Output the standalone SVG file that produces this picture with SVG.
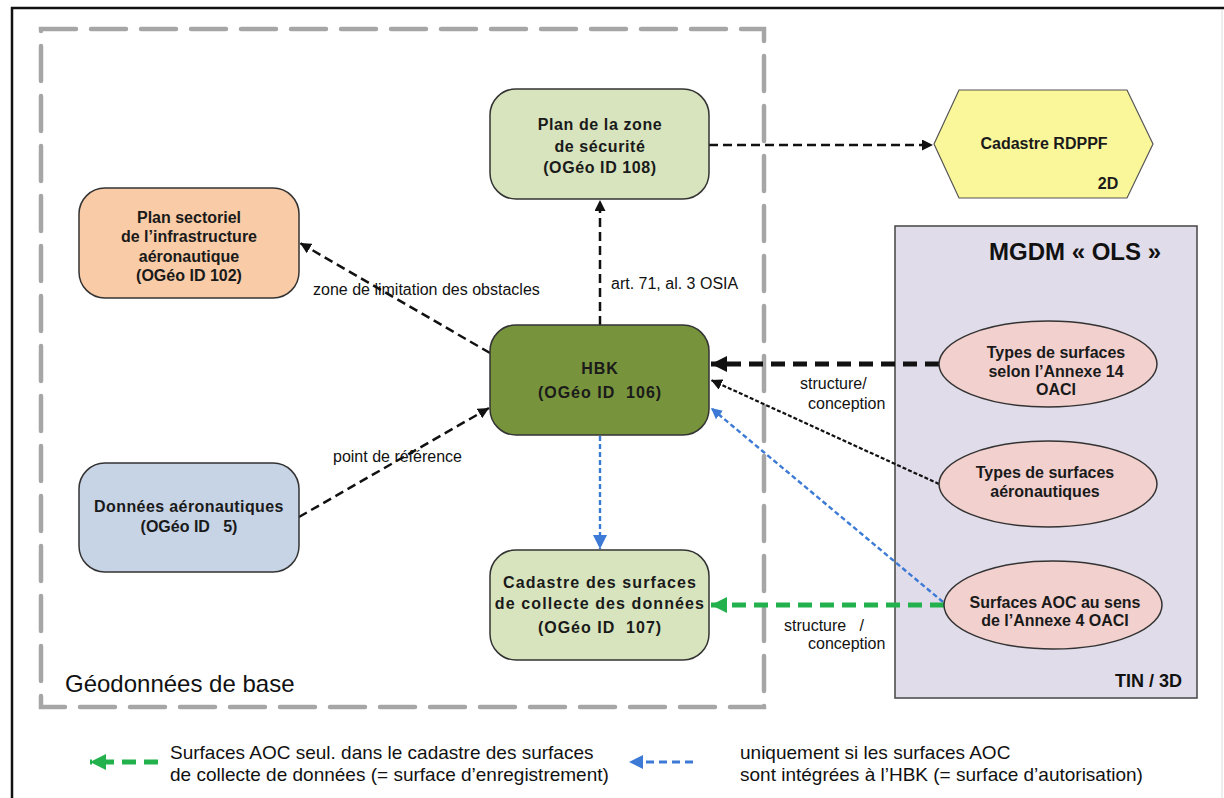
<svg xmlns="http://www.w3.org/2000/svg" width="1224" height="798" viewBox="0 0 1224 798">
<style>
.node{stroke:#333;stroke-width:1.5}
.t{font-family:"Liberation Sans",Arial,sans-serif;font-weight:bold;font-size:16px;fill:#1a1a1a;text-anchor:middle;dominant-baseline:central}
.lbl{font-family:"Liberation Sans",Arial,sans-serif;font-size:16px;fill:#111;dominant-baseline:central}
.leg{font-family:"Liberation Sans",Arial,sans-serif;font-size:19px;fill:#111;dominant-baseline:central}
.blk{fill:none;stroke:#111;stroke-width:2.5;stroke-dasharray:9 5}
.blkthick{fill:none;stroke:#111;stroke-width:5;stroke-dasharray:14 8}
.blkdot{fill:none;stroke:#111;stroke-width:2.2;stroke-dasharray:4 2}
.blue{fill:none;stroke:#3c7ad6;stroke-width:2.4;stroke-dasharray:5 3}
.green{fill:none;stroke:#22b14c;stroke-width:5;stroke-dasharray:14 8}
</style>
<defs>
<marker id="aB" markerUnits="userSpaceOnUse" viewBox="0 0 10 10" refX="10" refY="5" markerWidth="11" markerHeight="11" orient="auto"><path d="M0,0 L10,5 L0,10 z" fill="#111"/></marker>
<marker id="aBL" markerUnits="userSpaceOnUse" viewBox="0 0 10 10" refX="10" refY="5" markerWidth="16" markerHeight="16" orient="auto"><path d="M0,0 L10,5 L0,10 z" fill="#111"/></marker>
<marker id="aBlue" markerUnits="userSpaceOnUse" viewBox="0 0 10 10" refX="10" refY="5" markerWidth="11" markerHeight="11" orient="auto"><path d="M0,0 L10,5 L0,10 z" fill="#3c7ad6"/></marker>
<marker id="aBlueL" markerUnits="userSpaceOnUse" viewBox="0 0 10 10" refX="10" refY="5" markerWidth="14" markerHeight="14" orient="auto"><path d="M0,0 L10,5 L0,10 z" fill="#3c7ad6"/></marker>
<marker id="aG" markerUnits="userSpaceOnUse" viewBox="0 0 10 10" refX="10" refY="5" markerWidth="16" markerHeight="16" orient="auto"><path d="M0,0 L10,5 L0,10 z" fill="#22b14c"/></marker>
</defs>
<rect x="0" y="0" width="1224" height="798" fill="#fff"/>
<path d="M12,798 L12,8 L1224,8" fill="none" stroke="#111" stroke-width="2.5"/>
<line x1="1222" y1="10" x2="1222" y2="798" stroke="#ddd" stroke-width="1"/>
<g id="geodonnees">
<rect x="41" y="29" width="723" height="678" fill="none" stroke="#a6a6a6" stroke-width="4.5" stroke-dasharray="35 15" stroke-linecap="round"/>
<text x="65" y="683" font-family="Liberation Sans,Arial,sans-serif" font-size="24" fill="#111" dominant-baseline="central">Géodonnées de base</text>
</g>
<g id="mgdm">
<rect x="895" y="226" width="302" height="472" fill="#e0dcea" stroke="#444" stroke-width="1.5"/>
<text x="1075" y="251" font-family="Liberation Sans,Arial,sans-serif" font-size="24" font-weight="bold" fill="#111" text-anchor="middle" dominant-baseline="central">MGDM « OLS »</text>
<text x="1182" y="681" font-family="Liberation Sans,Arial,sans-serif" font-size="18" font-weight="bold" fill="#111" text-anchor="end" dominant-baseline="central">TIN / 3D</text>
</g>
<g id="connectors">
<line class="blk" x1="709" y1="145" x2="933" y2="145" marker-end="url(#aB)"/>
<line class="blk" x1="600" y1="325" x2="600" y2="200" marker-end="url(#aB)"/>
<line class="blk" x1="490" y1="353" x2="300" y2="243" marker-end="url(#aB)"/>
<line class="blk" x1="299" y1="517" x2="489" y2="408" marker-end="url(#aB)"/>
<line class="blkthick" x1="939" y1="364" x2="711" y2="364" marker-end="url(#aBL)"/>
<line class="blkdot" x1="939" y1="484" x2="711" y2="380" marker-end="url(#aB)"/>
<line class="blue" x1="943" y1="602" x2="711" y2="408" marker-end="url(#aBlue)"/>
<line class="blue" x1="600" y1="436" x2="600" y2="549" marker-end="url(#aBlueL)"/>
<line class="green" x1="944" y1="605" x2="711" y2="605" marker-end="url(#aG)"/>
<text class="lbl" x="313" y="289">zone de limitation des obstacles</text>
<text class="lbl" x="611" y="283">art. 71, al. 3 OSIA</text>
<text class="lbl" x="333" y="456">point de référence</text>
<text class="lbl" x="800" y="383">structure/</text>
<text class="lbl" x="808" y="403">conception</text>
<text class="lbl" x="784" y="625" xml:space="preserve">structure   /</text>
<text class="lbl" x="808" y="643">conception</text>
</g>
<g id="plan-sectoriel">
<rect class="node" x="79" y="188" width="220" height="110" rx="26" fill="#f9cba6"/>
<text class="t" x="189" y="217">Plan sectoriel</text>
<text class="t" x="189" y="236">de l’infrastructure</text>
<text class="t" x="189" y="256">aéronautique</text>
<text class="t" x="189" y="275">(OGéo ID 102)</text>
</g>
<g id="plan-zone">
<rect class="node" x="490" y="89" width="219" height="110" rx="26" fill="#d7e4bd"/>
<text class="t" x="600" y="124" font-size="18.5" letter-spacing="0.6">Plan de la zone</text>
<text class="t" x="600" y="146" font-size="18.5" letter-spacing="0.6">de sécurité</text>
<text class="t" x="600" y="167" font-size="18.5" letter-spacing="0.6">(OGéo ID 108)</text>
</g>
<g id="cadastre-rdppf">
<polygon points="934,144 959,90 1127,90 1153,144 1127,198 959,198" fill="#faf79b" stroke="#555" stroke-width="1.2"/>
<text class="t" x="1044" y="143" font-size="15.5">Cadastre RDPPF</text>
<text class="t" x="1108" y="183" font-size="18">2D</text>
</g>
<g id="hbk">
<rect class="node" x="490" y="325" width="219" height="110" rx="26" fill="#77933c"/>
<text class="t" x="600" y="368" font-size="18" letter-spacing="1">HBK</text>
<text class="t" x="600" y="392" font-size="18" xml:space="preserve" letter-spacing="1">(OGéo ID  106)</text>
</g>
<g id="cadastre-surfaces">
<rect class="node" x="490" y="550" width="219" height="110" rx="26" fill="#d7e4bd"/>
<text class="t" x="600" y="582" font-size="18" letter-spacing="1.1">Cadastre des surfaces</text>
<text class="t" x="600" y="603" font-size="18" letter-spacing="1.1">de collecte des données</text>
<text class="t" x="600" y="627" font-size="18" xml:space="preserve" letter-spacing="1">(OGéo ID  107)</text>
</g>
<g id="donnees">
<rect class="node" x="79" y="463" width="220" height="109" rx="26" fill="#c7d4e5"/>
<text class="t" x="189" y="506" font-size="15.5" letter-spacing="0.4">Données aéronautiques</text>
<text class="t" x="189" y="526" font-size="15.5" xml:space="preserve">(OGéo ID   5)</text>
</g>
<g id="types14">
<ellipse class="node" cx="1048" cy="364" rx="109" ry="43" fill="#f2d0ce"/>
<text class="t" x="1056" y="352">Types de surfaces</text>
<text class="t" x="1056" y="371">selon l’Annexe 14</text>
<text class="t" x="1056" y="389">OACI</text>
</g>
<g id="types-aero">
<ellipse class="node" cx="1048" cy="484" rx="109" ry="43" fill="#f2d0ce"/>
<text class="t" x="1045" y="472">Types de surfaces</text>
<text class="t" x="1045" y="491">aéronautiques</text>
</g>
<g id="aoc">
<ellipse class="node" cx="1053" cy="605" rx="109" ry="44" fill="#f2d0ce"/>
<text class="t" x="1055" y="602">Surfaces AOC au sens</text>
<text class="t" x="1055" y="620">de l’Annexe 4 OACI</text>
</g>
<g id="legend">
<line class="green" x1="158" y1="762" x2="90" y2="762" marker-end="url(#aG)"/>
<text class="leg" x="170" y="752">Surfaces AOC seul. dans le cadastre des surfaces</text>
<text class="leg" x="170" y="774">de collecte de données (= surface d’enregistrement)</text>
<line x1="693" y1="762" x2="629" y2="762" stroke="#3c7ad6" stroke-width="3" stroke-dasharray="8 5" marker-end="url(#aBlueL)"/>
<text class="leg" x="740" y="752">uniquement si les surfaces AOC</text>
<text class="leg" x="740" y="774">sont intégrées à l’HBK (= surface d’autorisation)</text>
</g>
</svg>
